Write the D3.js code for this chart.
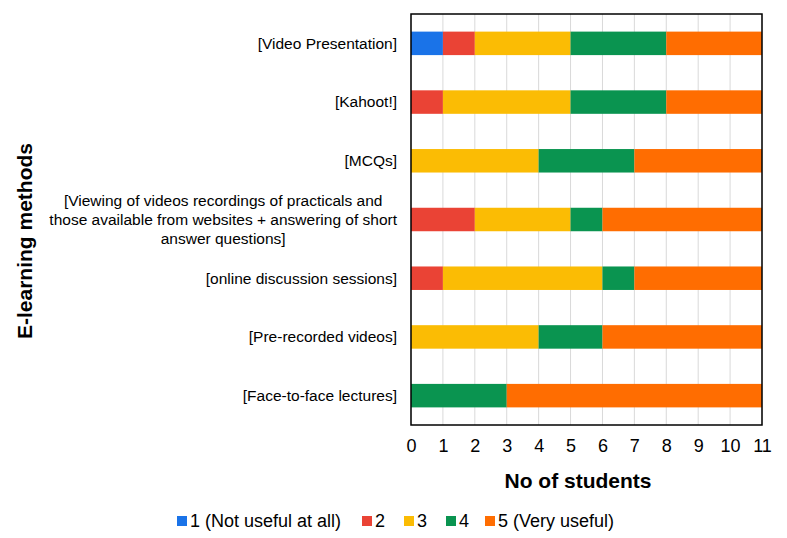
<!DOCTYPE html>
<html>
<head>
<meta charset="utf-8">
<script src="https://cdn.jsdelivr.net/npm/d3@7"></script>
<style>
  body { margin: 0; background: #fff; }
  svg, svg text { font-family: "Liberation Sans", Arial, sans-serif; }
</style>
</head>
<body>
<svg id="chart" width="787" height="538"></svg>
<script>
const methods = [
  ["[Video Presentation]"],
  ["[Kahoot!]"],
  ["[MCQs]"],
  ["[Viewing of videos recordings of practicals and", "those available from websites + answering of short", "answer questions]"],
  ["[online discussion sessions]"],
  ["[Pre-recorded videos]"],
  ["[Face-to-face lectures]"]
];
const ratingLabels = ["1 (Not useful at all)", "2", "3", "4", "5 (Very useful)"];
const ratingColors = ["#1a73e8", "#ea4335", "#fbbc04", "#0a9450", "#ff6d01"];
const rating1 = [1, 0, 0, 0, 0, 0, 0];
const rating2 = [1, 1, 0, 2, 1, 0, 0];
const rating3 = [3, 4, 4, 3, 5, 4, 0];
const rating4 = [3, 3, 3, 1, 1, 2, 3];
const rating5 = [3, 3, 4, 5, 4, 5, 8];
const xTicks = d3.range(0, 12);

const series = [rating1, rating2, rating3, rating4, rating5];
const rows = methods.map((m, i) => {
  const r = { id: i };
  series.forEach((s, k) => r["k" + k] = s[i]);
  return r;
});
const keys = series.map((s, k) => "k" + k);
const stacked = d3.stack().keys(keys)(rows);

const svg = d3.select("#chart");
const margin = { left: 411, right: 25, top: 14, bottom: 113 };
const width = 787 - margin.left - margin.right;
const height = 538 - margin.top - margin.bottom;

const x = d3.scaleLinear().domain([0, 11]).range([margin.left, margin.left + width]);
const y = d3.scaleBand().domain(d3.range(methods.length))
  .range([margin.top, margin.top + height]).paddingInner(0.6).paddingOuter(0.3);

// gridlines
svg.append("g")
  .selectAll("line")
  .data(xTicks)
  .join("line")
  .attr("x1", d => x(d)).attr("x2", d => x(d))
  .attr("y1", margin.top).attr("y2", margin.top + height)
  .attr("stroke", "#d9d9d9")
  .attr("stroke-width", 1);

// bars
svg.append("g")
  .selectAll("g")
  .data(stacked)
  .join("g")
  .attr("fill", (d, k) => ratingColors[k])
  .selectAll("rect")
  .data(d => d)
  .join("rect")
  .attr("x", d => x(d[0]))
  .attr("width", d => x(d[1]) - x(d[0]))
  .attr("y", (d, i) => y(i))
  .attr("height", y.bandwidth());

// frame
svg.append("rect")
  .attr("x", margin.left).attr("y", margin.top)
  .attr("width", width).attr("height", height)
  .attr("fill", "none")
  .attr("stroke", "#000")
  .attr("stroke-width", 1.5);

// x axis
const xAxis = svg.append("g")
  .attr("transform", `translate(0,${margin.top + height})`)
  .call(d3.axisBottom(x).tickValues(xTicks).tickSize(0).tickPadding(14));
xAxis.attr("font-family", null).attr("font-size", null);
xAxis.select(".domain").remove();
xAxis.selectAll("text")
  .attr("font-size", 18)
  .attr("fill", "#000");

svg.append("text")
  .attr("x", 578).attr("y", 488)
  .attr("text-anchor", "middle")
  .attr("font-size", 21).attr("font-weight", "bold")
  .text("No of students");

// y labels
const labelRight = 397;
const labels = svg.append("g")
  .attr("font-size", 15.5)
  .selectAll("text")
  .data(methods)
  .join("text")
  .attr("text-anchor", "middle");
labels.each(function(d, i) {
  const t = d3.select(this);
  const n = d.length;
  const spans = d.map((line, j) => t.append("tspan")
    .attr("y", y(i) + y.bandwidth() / 2 + (j - (n - 1) / 2) * 19)
    .attr("dy", "0.35em")
    .text(line));
  const maxW = d3.max(spans, s => s.node().getComputedTextLength());
  spans.forEach(s => s.attr("x", labelRight - maxW / 2));
});

svg.append("text")
  .attr("transform", `translate(32,241) rotate(-90)`)
  .attr("text-anchor", "middle")
  .attr("font-size", 21).attr("font-weight", "bold")
  .text("E-learning methods");

// legend
const legendX = [177, 362, 404, 446, 485];
const legend = svg.append("g")
  .selectAll("g")
  .data(ratingLabels)
  .join("g")
  .attr("transform", (d, k) => `translate(${legendX[k]},521)`);
legend.append("rect")
  .attr("x", 0).attr("y", -5)
  .attr("width", 10).attr("height", 10)
  .attr("fill", (d, k) => ratingColors[k]);
legend.append("text")
  .attr("x", 13).attr("dy", "0.36em")
  .attr("font-size", 18)
  .text(d => d);
</script>
</body>
</html>
